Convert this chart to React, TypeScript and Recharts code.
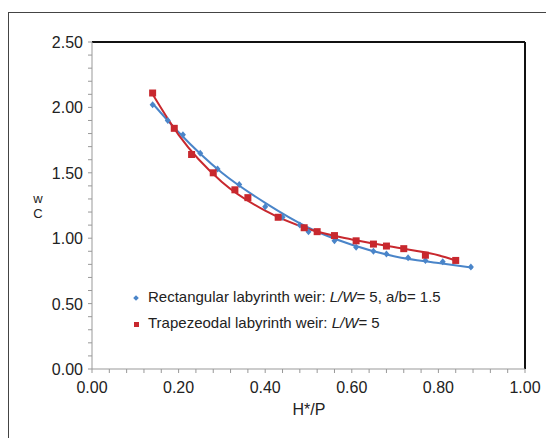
import { ComposedChart, Line, Scatter, XAxis, YAxis, ReferenceLine } from 'recharts';

// Rectangular labyrinth weir (L/W = 5, a/b = 1.5)
const rectH = [0.14, 0.175, 0.21, 0.25, 0.29, 0.34, 0.4, 0.44, 0.48, 0.5, 0.56, 0.61, 0.65, 0.68, 0.73, 0.77, 0.81, 0.875];
const rectC = [2.02, 1.9, 1.79, 1.65, 1.53, 1.41, 1.24, 1.16, 1.1, 1.05, 0.98, 0.93, 0.9, 0.88, 0.85, 0.83, 0.82, 0.78];

// Trapezoidal labyrinth weir (L/W = 5)
const trapH = [0.14, 0.19, 0.23, 0.28, 0.33, 0.36, 0.43, 0.49, 0.52, 0.56, 0.61, 0.65, 0.68, 0.72, 0.77, 0.84];
const trapC = [2.11, 1.84, 1.64, 1.5, 1.37, 1.31, 1.16, 1.08, 1.05, 1.02, 0.98, 0.955, 0.94, 0.92, 0.87, 0.83];

// trend curves
const rectTrendH = [0.14, 0.2, 0.3, 0.4, 0.5, 0.6, 0.7, 0.8, 0.88];
const rectTrendC = [2.03, 1.81, 1.5, 1.27, 1.08, 0.95, 0.86, 0.81, 0.775];
const trapTrendH = [0.14, 0.2, 0.3, 0.4, 0.5, 0.6, 0.7, 0.8, 0.84];
const trapTrendC = [2.1, 1.79, 1.43, 1.21, 1.07, 0.99, 0.93, 0.87, 0.83];

const xTicks = [0, 0.04, 0.08, 0.12, 0.16, 0.2, 0.24, 0.28, 0.32, 0.36, 0.4, 0.44, 0.48, 0.52, 0.56, 0.6, 0.64, 0.68, 0.72, 0.76, 0.8, 0.84, 0.88, 0.92, 0.96, 1];
const yTicks = [0, 0.1, 0.2, 0.3, 0.4, 0.5, 0.6, 0.7, 0.8, 0.9, 1, 1.1, 1.2, 1.3, 1.4, 1.5, 1.6, 1.7, 1.8, 1.9, 2, 2.1, 2.2, 2.3, 2.4, 2.5];

const BLUE = '#4a85c9';
const RED = '#c8282e';
const FONT = '"Liberation Sans", Arial, sans-serif';

const toPoints = (xs: number[], ys: number[]) => xs.map((x, i) => ({ x, y: ys[i] }));

const rectData = toPoints(rectH, rectC);
const trapData = toPoints(trapH, trapC);
const rectTrend = toPoints(rectTrendH, rectTrendC);
const trapTrend = toPoints(trapTrendH, trapTrendC);

const isMajor = (v: number, step: number) => Math.abs(v / step - Math.round(v / step)) < 1e-6;

const XTick = ({ x, y, payload }: any) =>
  isMajor(payload.value, 0.2) ? (
    <text x={x} y={y + 18} textAnchor="middle" fontSize={16} fill="#222" fontFamily={FONT}>
      {payload.value.toFixed(2)}
    </text>
  ) : <g />;

const YTick = ({ x, y, payload }: any) =>
  isMajor(payload.value, 0.5) ? (
    <text x={x - 3} y={y + 6} textAnchor="end" fontSize={16} fill="#222" fontFamily={FONT}>
      {payload.value.toFixed(2)}
    </text>
  ) : <g />;

const Diamond = ({ cx, cy }: any) => (
  <path d={`M${cx},${cy - 3.5}L${cx + 3},${cy}L${cx},${cy + 3.5}L${cx - 3},${cy}Z`} fill={BLUE} />
);

const Square = ({ cx, cy }: any) => (
  <rect x={cx - 3.5} y={cy - 3.5} width={7} height={7} fill={RED} />
);

export default function App() {
  return (
    <div style={{ position: 'relative', width: 546, height: 430, overflow: 'hidden', fontFamily: FONT }}>
      <div style={{ position: 'absolute', left: 0, top: 4, width: 600, height: 500, border: '1px solid #444', boxSizing: 'border-box' }} />
      <div style={{ position: 'absolute', left: 0, top: 0 }}>
        <ComposedChart width={546} height={430} margin={{ top: 34, right: 29, left: 0, bottom: 39 }}>
          <XAxis
            type="number"
            dataKey="x"
            domain={[0, 1]}
            ticks={xTicks}
            interval={0}
            height={30}
            tick={<XTick />}
            tickSize={4}
            stroke="#999"
            allowDataOverflow
          />
          <YAxis
            type="number"
            dataKey="y"
            domain={[0, 2.5]}
            ticks={yTicks}
            interval={0}
            width={84}
            tick={<YTick />}
            tickSize={4}
            stroke="#999"
            allowDataOverflow
          />
          <ReferenceLine y={2.5} stroke="#111" strokeWidth={2} />
          <ReferenceLine x={1} stroke="#111" strokeWidth={2} />
          <Scatter name="rect" data={rectData} dataKey="y" shape={<Diamond />} isAnimationActive={false} />
          <Scatter name="trap" data={trapData} dataKey="y" shape={<Square />} isAnimationActive={false} />
          <Line data={rectTrend} dataKey="y" type="monotone" stroke={BLUE} strokeWidth={2} dot={false} isAnimationActive={false} />
          <Line data={trapTrend} dataKey="y" type="monotone" stroke={RED} strokeWidth={2} dot={false} isAnimationActive={false} />
        </ComposedChart>
      </div>
      <div style={{ position: 'absolute', left: 126, top: 276, fontSize: 15, color: '#222', lineHeight: '26px', whiteSpace: 'nowrap' }}>
        <div>
          <span style={{ display: 'inline-block', width: 4, height: 4, background: BLUE, transform: 'rotate(45deg)', marginRight: 10, verticalAlign: 'middle' }} />
          Rectangular labyrinth weir: <i>L/W</i>= 5, a/b= 1.5
        </div>
        <div>
          <span style={{ display: 'inline-block', width: 5, height: 5, background: RED, marginRight: 9, verticalAlign: 'middle' }} />
          Trapezeodal labyrinth weir: <i>L/W</i>= 5
        </div>
      </div>
      <div style={{ position: 'absolute', left: 24, top: 183, fontSize: 13, lineHeight: '15px', color: '#222', textAlign: 'center', width: 12 }}>
        <div>w</div>
        <div>C</div>
      </div>
      <div style={{ position: 'absolute', left: 251, top: 393, width: 100, textAlign: 'center', fontSize: 16, color: '#222' }}>H*/P</div>
    </div>
  );
}
